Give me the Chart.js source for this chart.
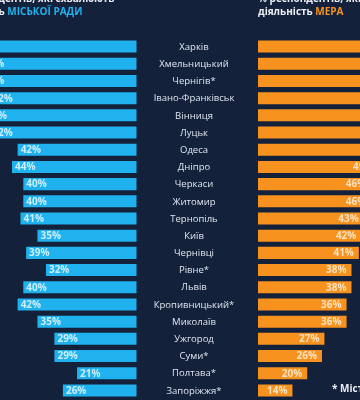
<!DOCTYPE html>
<html>
<head>
<meta charset="utf-8">
<script src="https://cdn.jsdelivr.net/npm/chart.js@4/dist/chart.umd.min.js"></script>
<style>
  html, body { margin: 0; padding: 0; background: #14213a; overflow: hidden; }
  #wrap { position: relative; width: 360px; height: 400px; overflow: hidden; background: #14213a; }
  canvas { position: absolute; left: 0; top: 0; }
  .t { position: absolute; white-space: nowrap; font-family: "Open Sans", sans-serif; font-weight: 700; font-size: 10px; color: #e9eef5; line-height: 13px; }
  .blue { color: #1fb2ee; }
  .orange { color: #f7921e; }
  .note { position: absolute; white-space: nowrap; font-family: "Open Sans", sans-serif; font-weight: 700; font-size: 10px; color: #e9eef5; }
</style>
</head>
<body>
<div id="wrap">
  <canvas id="c" width="360" height="400"></canvas>
  <div class="t" style="left:-50px; top:-8px;">% респондентів, які схвалюють<br>діяльність <span class="blue">МІСЬКОЇ РАДИ</span></div>
  <div class="t" style="left:258px; top:-8px;">% респондентів, які схвалюють<br>діяльність <span class="orange">МЕРА</span></div>
  <div class="note" style="left:332px; top:381px;">* Міста, де</div>
</div>
<script>
const cities = ["Харків","Хмельницький","Чернігів*","Івано-Франківськ","Вінниця","Луцьк","Одеса","Дніпро","Черкаси","Житомир","Тернопіль","Київ","Чернівці","Рівне*","Львів","Кропивницький*","Миколаїв","Ужгород","Суми*","Полтава*","Запоріжжя*"];
const councilValues = [58,55,55,52,54,52,42,44,40,40,41,35,39,32,40,42,35,29,29,21,26];
const mayorValues = [75,68,64,62,60,57,54,49,46,46,43,42,41,38,38,36,36,27,26,20,14];

const labelPlugin = {
  id: 'labels',
  afterDatasetsDraw(chart) {
    const ctx = chart.ctx;
    const y = chart.scales.y;
    const xl = chart.scales.xl;
    const xr = chart.scales.xr;
    ctx.save();
    ctx.textBaseline = 'middle';
    cities.forEach((c, i) => {
      const py = y.getPixelForValue(i);
      ctx.font = '9.5px "Open Sans", sans-serif';
      ctx.fillStyle = '#dfe6ef';
      ctx.textAlign = 'center';
      ctx.fillText(c, 194, py + 0.5);
      ctx.font = 'bold 10px "Open Sans", sans-serif';
      ctx.fillStyle = 'rgba(235,248,255,0.85)';
      ctx.textAlign = 'left';
      ctx.fillText(councilValues[i] + '%', xl.getPixelForValue(councilValues[i]) + 3, py + 0.5);
      ctx.fillStyle = 'rgba(255,240,220,0.85)';
      ctx.textAlign = 'right';
      ctx.fillText(mayorValues[i] + '%', xr.getPixelForValue(mayorValues[i]) - 5, py + 0.5);
    });
    ctx.restore();
  }
};

new Chart(document.getElementById('c'), {
  type: 'bar',
  data: {
    labels: cities,
    datasets: [
      { data: councilValues, xAxisID: 'xl', backgroundColor: '#1fb2ee', borderWidth: 0, grouped: false, barPercentage: 1, categoryPercentage: 0.7 },
      { data: mayorValues, xAxisID: 'xr', backgroundColor: '#f7921e', borderWidth: 0, grouped: false, barPercentage: 1, categoryPercentage: 0.7 }
    ]
  },
  options: {
    indexAxis: 'y',
    responsive: false,
    animation: false,
    layout: { padding: { top: 38, bottom: 1, left: 0, right: 0 } },
    plugins: { legend: { display: false }, tooltip: { enabled: false } },
    scales: {
      y: { display: false },
      xl: { type: 'linear', axis: 'x', display: false, reverse: true, min: -78.98, max: 48.23 },
      xr: { type: 'linear', axis: 'x', display: false, min: -104.88, max: 41.46 }
    }
  },
  plugins: [labelPlugin]
});
</script>
</body>
</html>
